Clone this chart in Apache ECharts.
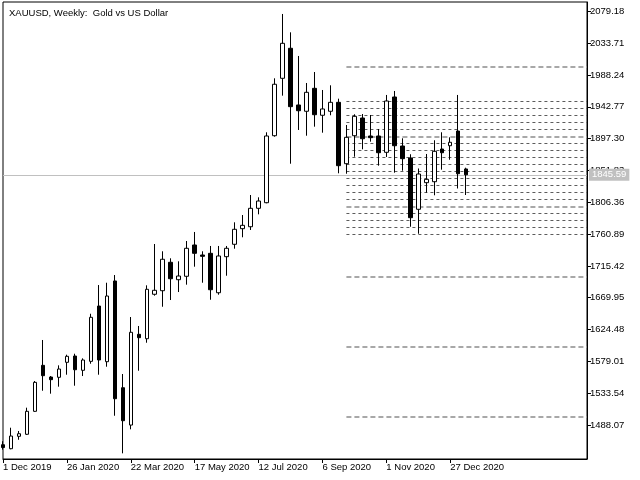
<!DOCTYPE html>
<html><head><meta charset="utf-8">
<script src="https://cdn.jsdelivr.net/npm/echarts@6/dist/echarts.min.js"></script>
<style>html,body{margin:0;padding:0;background:#fff}#c{width:640px;height:480px}</style>
</head><body><div id="c"></div>
<script>
const titleText = 'XAUUSD, Weekly:  Gold vs US Dollar';
const dateLabels = ['1 Dec 2019','26 Jan 2020','22 Mar 2020','17 May 2020','12 Jul 2020','6 Sep 2020','1 Nov 2020','27 Dec 2020'];
const yTicks = [1488.07,1533.54,1579.01,1624.48,1669.95,1715.42,1760.89,1806.36,1851.83,1897.30,1942.77,1988.24,2033.71,2079.18];
const opens  = [1460,1454.3,1472.0,1474.9,1507.7,1573.4,1556.7,1556.3,1577.7,1586.7,1566.3,1579.1,1658.1,1578.6,1693.9,1541.4,1488.1,1617.7,1611.4,1674.9,1680.0,1720.6,1695.7,1700.6,1745.3,1731.0,1733.4,1677.1,1728.6,1746.3,1768.6,1771.4,1797.7,1805.7,1901.4,1983.4,2026.3,1945.3,1936.3,1969.1,1930.6,1936.3,1949.1,1861.4,1901.4,1926.7,1901.0,1901.0,1877.7,1956.7,1886.7,1869.6,1796.3,1834.3,1835.7,1882.4,1887.1,1908.1,1853.9];
const highs  = [1465,1484.3,1479.6,1512.9,1551.0,1609.6,1558.1,1573.4,1588.6,1590.0,1583.4,1647.1,1688.1,1691.4,1702.4,1561.0,1642.4,1629.6,1687.7,1746.7,1736.3,1726.3,1722.0,1751.0,1763.9,1736.3,1743.9,1743.9,1743.9,1777.7,1788.1,1816.7,1813.4,1906.3,1983.4,2075.3,2049.1,2015.3,1976.7,1992.4,1966.7,1973.4,1954.3,1916.7,1932.0,1932.4,1931.0,1911.0,1959.6,1965.3,1897.7,1874.9,1854.6,1875.3,1894.9,1906.3,1899.1,1959.6,1855.7];
const lows   = [1453,1453.5,1467.1,1474.0,1507.0,1537.1,1532.9,1542.9,1560.0,1544.3,1558.1,1575.7,1560.0,1571.4,1501.4,1447.7,1482.0,1565.7,1605.7,1672.9,1657.1,1666.7,1678.1,1688.6,1714.3,1691.4,1667.1,1674.3,1701.4,1740.0,1756.3,1766.7,1789.1,1804.9,1900.0,1958.6,1861.4,1909.6,1901.4,1914.3,1905.7,1930.6,1847.7,1847.1,1871.4,1882.0,1892.9,1858.6,1871.0,1848.6,1851.4,1771.4,1761.4,1820.0,1816.3,1852.9,1867.1,1826.0,1816.7];
const closes = [1456,1472.4,1475.7,1507.7,1549.1,1558.6,1552.9,1568.1,1586.3,1567.1,1581.0,1642.0,1581.0,1672.4,1525.7,1494.3,1620.6,1612.9,1682.0,1680.6,1724.9,1697.1,1701.0,1740.6,1733.4,1729.1,1681.4,1729.6,1740.6,1767.7,1773.4,1797.7,1808.1,1901.0,1974.9,2033.4,1942.9,1937.1,1963.4,1931.4,1939.6,1949.1,1858.6,1899.1,1929.1,1897.1,1898.6,1877.1,1951.0,1887.1,1868.6,1784.3,1846.7,1839.1,1879.1,1877.1,1892.0,1847.1,1845.59];
const lastPrice = 1845.59;
const minorLevels = [1950,1940,1930,1920,1910,1890,1880,1870,1860,1850,1840,1830,1820,1810,1790,1780,1770,1760];
const majorLevels = [2000,1900,1800,1700,1600,1500];
const levelStart = 43;

const X_MAX = 73.125;
const FONT = 'Liberation Sans';
const FS = 9.5;
const candleData = opens.map((o, i) => [i, o, closes[i], lows[i], highs[i]]);
const labelIdx = dateLabels.map((d, i) => i * 8);

const lineItems = [];
minorLevels.forEach(p => lineItems.push([
  {coord: [levelStart, p], lineStyle: {color: '#5c5c5c', width: 1, type: [3, 3]}},
  {coord: [X_MAX, p]}
]));
majorLevels.forEach(p => lineItems.push([
  {coord: [levelStart, p], lineStyle: {color: '#a8a8a8', width: 2, type: [5, 3]}},
  {coord: [X_MAX, p]}
]));
lineItems.push({
  yAxis: lastPrice,
  lineStyle: {color: '#c0c0c0', width: 1, type: 'solid'},
  label: {show: true, position: 'end', distance: 2, formatter: lastPrice.toFixed(2),
    color: '#fff', backgroundColor: '#c0c0c0', padding: [1, 3, 1, 3],
    fontFamily: FONT, fontSize: FS}
});

const chart = echarts.init(document.getElementById('c'), null, {renderer: 'canvas'});
chart.setOption({
  animation: false,
  backgroundColor: '#fff',
  title: {text: titleText, left: 4, top: 3,
    textStyle: {fontFamily: FONT, fontSize: FS, fontWeight: 'normal', color: '#000'}},
  grid: {left: 2, right: 53, top: 2, bottom: 21, show: true, borderColor: '#000', borderWidth: 1, backgroundColor: 'transparent'},
  xAxis: {
    type: 'value', min: 0, max: X_MAX,
    splitLine: {show: false},
    axisLine: {show: true, onZero: false, lineStyle: {color: '#000'}},
    axisTick: {show: true, customValues: labelIdx, length: 4, lineStyle: {color: '#000'}},
    axisLabel: {show: true, customValues: labelIdx, align: 'left', margin: 3,
      formatter: v => dateLabels[Math.round(v / 8)] || '',
      color: '#000', fontFamily: FONT, fontSize: FS}
  },
  yAxis: {
    type: 'value', position: 'right', min: 1439.6, max: 2092.4, scale: true,
    splitLine: {show: false},
    axisLine: {show: true, onZero: false, lineStyle: {color: '#000'}},
    axisTick: {show: true, customValues: yTicks, length: 4, inside: false, lineStyle: {color: '#000'}},
    axisLabel: {show: true, customValues: yTicks, margin: 3,
      formatter: v => v.toFixed(2),
      color: '#000', fontFamily: FONT, fontSize: FS}
  },
  series: [{
    type: 'candlestick',
    z: 3,
    data: candleData,
    encode: {x: 0, y: [1, 2, 3, 4]},
    barWidth: 4,
    clip: true,
    itemStyle: {color: '#fff', color0: '#000', borderColor: '#000', borderColor0: '#000', borderWidth: 1},
    markLine: {
      silent: true, symbol: ['none', 'none'], animation: false, z: 1,
      label: {show: false},
      data: lineItems
    }
  }]
});
</script>
</body></html>
